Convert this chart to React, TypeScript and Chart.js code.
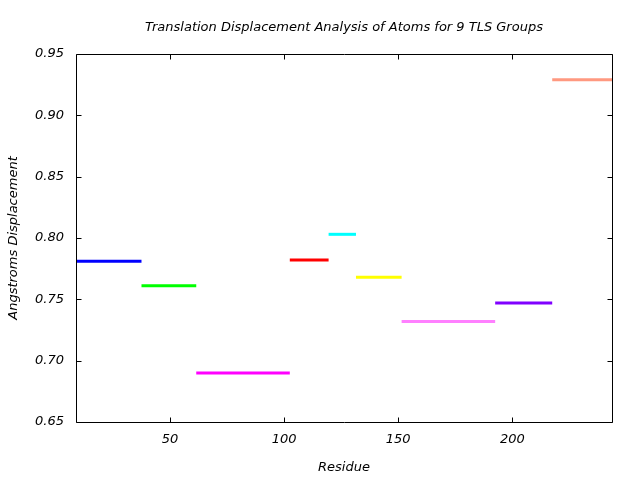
import React, { useEffect, useRef } from "react";
import { Chart, registerables } from "chart.js";

Chart.register(...registerables);

// TLS group residue ranges (segment start / end) and mean displacement
const groupStarts = [8.8, 37.5, 61.5, 102.5, 119.5, 131.5, 151.5, 192.5, 217.5];
const groupEnds = [37.5, 61.5, 102.5, 119.5, 131.5, 151.5, 192.5, 217.5, 243.7];
const displacement = [0.781, 0.761, 0.69, 0.782, 0.803, 0.768, 0.732, 0.747, 0.929];
const groupColors = [
  "#0000ff",
  "#00ff00",
  "#ff00ff",
  "#ff0000",
  "#00ffff",
  "#ffff00",
  "#ff80ff",
  "#8000ff",
  "#ff9980",
];
const xTickValues = [50, 100, 150, 200];
const yTickValues = [0.65, 0.7, 0.75, 0.8, 0.85, 0.9, 0.95];
const xRange = [8.8, 243.7];
const yRange = [0.65, 0.95];

const FONT = "'DejaVu Sans', sans-serif";
const FS = 13;

const framePlugin = {
  id: "frameTicks",
  afterDraw(chart: any) {
    const { ctx, chartArea } = chart;
    const l = Math.round(chartArea.left) + 0.5;
    const r = Math.round(chartArea.right) + 0.5;
    const t = Math.round(chartArea.top) + 0.5;
    const b = Math.round(chartArea.bottom) + 0.5;
    const len = 5;
    ctx.save();
    ctx.strokeStyle = "#000";
    ctx.lineWidth = 1;
    ctx.beginPath();
    ctx.rect(l, t, r - l, b - t);
    const xs = chart.scales.x;
    const ys = chart.scales.y;
    xTickValues.forEach((v) => {
      const px = Math.round(xs.getPixelForValue(v)) + 0.5;
      ctx.moveTo(px, b);
      ctx.lineTo(px, b - len);
      ctx.moveTo(px, t);
      ctx.lineTo(px, t + len);
    });
    yTickValues.forEach((v) => {
      const py = Math.round(ys.getPixelForValue(v)) + 0.5;
      ctx.moveTo(l, py);
      ctx.lineTo(l + len, py);
      ctx.moveTo(r, py);
      ctx.lineTo(r - len, py);
    });
    ctx.stroke();
    ctx.restore();
  },
};

export default function App() {
  const ref = useRef<HTMLCanvasElement | null>(null);

  useEffect(() => {
    document.body.style.margin = "0";
    if (!ref.current) return;
    const datasets = displacement.map((v, i) => ({
      label: `Group ${i + 1}`,
      data: [
        { x: groupStarts[i], y: v },
        { x: groupEnds[i], y: v },
      ],
      borderColor: groupColors[i],
      backgroundColor: groupColors[i],
      borderWidth: 3,
      pointRadius: 0,
      fill: false,
      tension: 0,
    }));
    const chart = new Chart(ref.current, {
      type: "line",
      data: { datasets },
      plugins: [framePlugin],
      options: {
        responsive: false,
        animation: false,
        parsing: false as any,
        layout: { padding: { top: 0, right: 28, bottom: 0, left: 0 } },
        plugins: {
          legend: { display: false },
          tooltip: { enabled: false },
          title: {
            display: true,
            text: "Translation Displacement Analysis of Atoms for 9 TLS Groups",
            color: "#000",
            fullSize: false,
            font: { family: FONT, size: FS, style: "italic", weight: "normal", lineHeight: 1 },
            padding: { top: 21, bottom: 20 },
          },
        },
        scales: {
          x: {
            type: "linear",
            min: xRange[0],
            max: xRange[1],
            grid: { display: false, drawTicks: false },
            border: { display: false },
            afterBuildTicks: (s: any) => {
              s.ticks = xTickValues.map((v) => ({ value: v }));
            },
            afterFit: (s: any) => {
              s.height = 58;
            },
            ticks: {
              color: "#000",
              padding: 10,
              maxRotation: 0,
              font: { family: FONT, size: FS, style: "italic" },
              callback: (v: any) => String(v),
            },
            title: {
              display: true,
              text: "Residue",
              color: "#000",
              font: { family: FONT, size: FS, style: "italic" },
              padding: { top: 0, bottom: 5 },
            },
          },
          y: {
            type: "linear",
            min: yRange[0],
            max: yRange[1],
            grid: { display: false, drawTicks: false },
            border: { display: false },
            afterBuildTicks: (s: any) => {
              s.ticks = yTickValues.map((v) => ({ value: v }));
            },
            afterFit: (s: any) => {
              s.width = 76;
            },
            ticks: {
              color: "#000",
              padding: 12,
              font: { family: FONT, size: FS, style: "italic" },
              callback: (v: any) => Number(v).toFixed(2),
            },
            title: {
              display: true,
              text: "Angstroms Displacement",
              color: "#000",
              font: { family: FONT, size: FS, style: "italic" },
              padding: { top: 6, bottom: 0 },
            },
          },
        },
      },
    });
    return () => chart.destroy();
  }, []);

  return (
    <div style={{ position: "absolute", left: 0, top: 0, width: 640, height: 480, background: "#fff" }}>
      <canvas ref={ref} width={640} height={480} />
    </div>
  );
}
